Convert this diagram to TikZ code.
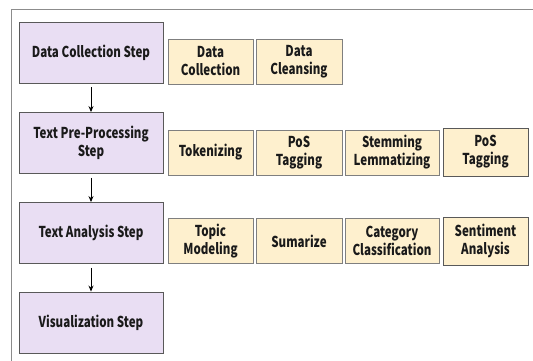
\documentclass[tikz,border=0pt]{standalone}
\usepackage{fontspec}
\newfontfamily\lab{Noto Sans CJK KR}[FakeStretch=0.77]
\usetikzlibrary{arrows.meta}
\definecolor{stepfill}{HTML}{E9DEF3}
\definecolor{stepdraw}{HTML}{595959}
\definecolor{taskfill}{HTML}{FEF0CE}
\definecolor{taskdraw}{HTML}{7F7F7F}
\definecolor{framecol}{HTML}{8C8C8C}
\definecolor{txt}{HTML}{1A1A1A}
\begin{document}
\begin{tikzpicture}[x=1pt,y=-1pt,
  stepbox/.style={draw=stepdraw,fill=stepfill,line width=0.9pt,minimum width=144pt,minimum height=61pt,
    align=center,text=txt,font=\lab\bfseries\fontsize{15}{18}\selectfont,inner sep=2pt},
  taskbox/.style={draw=taskdraw,fill=taskfill,line width=0.9pt,minimum height=45pt,
    align=center,text=txt,font=\lab\bfseries\fontsize{15}{18}\selectfont,inner sep=1pt},
  taskboxb/.style={taskbox,draw=stepdraw,minimum height=48pt},
  arr/.style={draw=black,line width=0.8pt,-{Stealth[length=6pt,width=5pt]}}]
\useasboundingbox (0,0) rectangle (533,361);
\draw[framecol,line width=1pt] (11,361) -- (11,10) -- (533,10);
% steps
\node[stepbox] (s1) at (91,52.5) {Data Collection Step};
\node[stepbox] (s2) at (91,143) {Text Pre-Processing\\Step};
\node[stepbox] (s3) at (91,233) {Text Analysis Step};
\node[stepbox] (s4) at (91,322.5) {Visualization Step};
% row 1
\node[taskbox,minimum width=85pt] (t11) at (210.5,61.5) {Data\\Collection};
\node[taskbox,minimum width=86pt] (t12) at (299,61.5) {Data\\Cleansing};
% row 2
\node[taskbox,minimum width=85pt] (t21) at (210.5,152.5) {Tokenizing};
\node[taskbox,minimum width=86pt] (t22) at (299,152.5) {PoS\\Tagging};
\node[taskbox,minimum width=94pt] (t23) at (392,152.5) {Stemming\\Lemmatizing};
\node[taskboxb,minimum width=85pt] (t24) at (485.5,152) {PoS\\Tagging};
% row 3
\node[taskbox,minimum width=85pt] (t31) at (210.5,241) {Topic\\Modeling};
\node[taskbox,minimum width=86pt] (t32) at (299,241) {Sumarize};
\node[taskbox,minimum width=94pt] (t33) at (392,241) {Category\\Classification};
\node[taskboxb,minimum width=85pt] (t34) at (485.5,241) {Sentiment\\Analysis};
% arrows
\draw[arr] ([yshift=-4pt]s1.south) -- (s2.north);
\draw[arr] ([yshift=-4pt]s2.south) -- (s3.north);
\draw[arr] ([yshift=-4pt]s3.south) -- (s4.north);
\end{tikzpicture}
\end{document}
